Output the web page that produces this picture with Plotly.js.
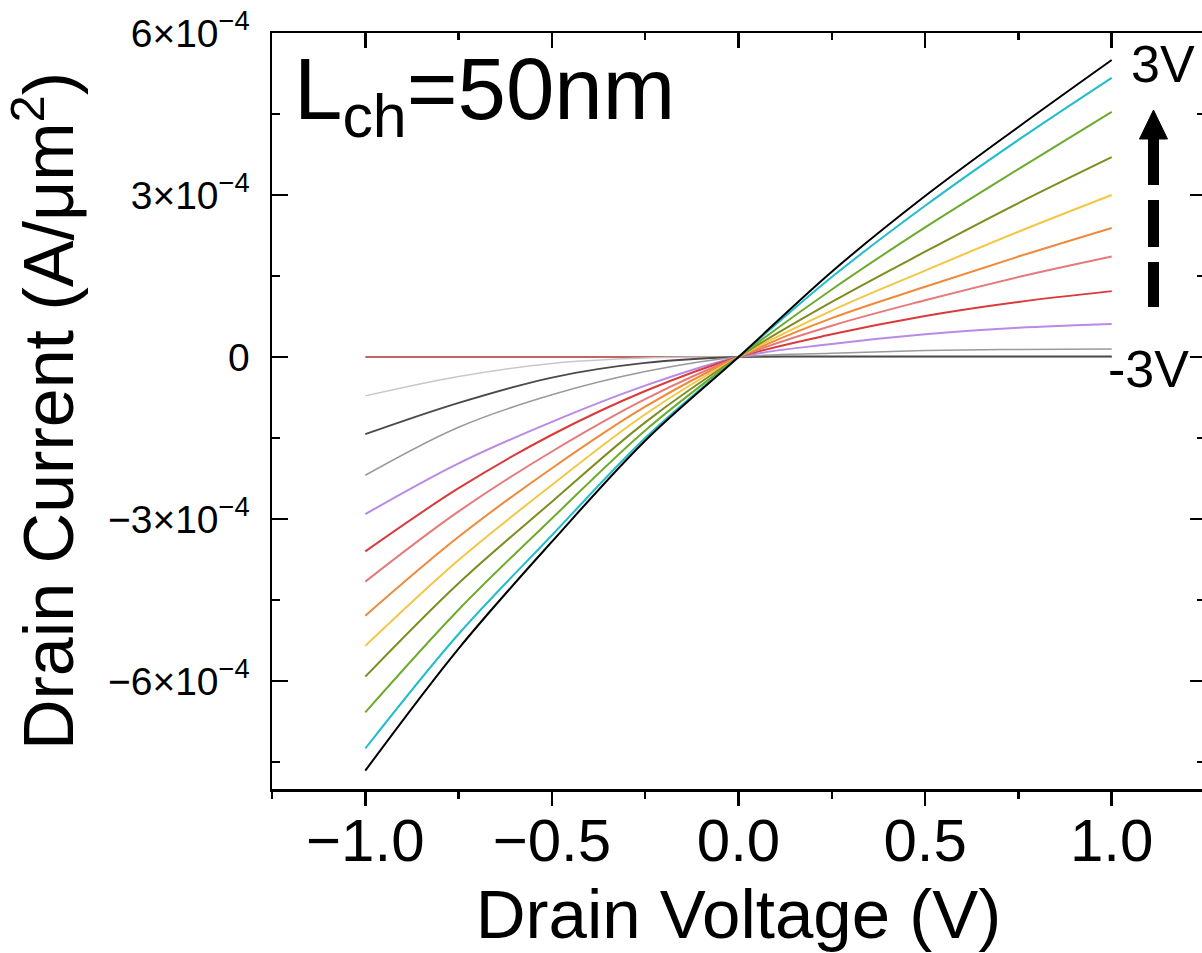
<!DOCTYPE html>
<html>
<head>
<meta charset="utf-8">
<script src="https://cdn.plot.ly/plotly-3.0.1.min.js"></script>
<style>
html,body{margin:0;padding:0;overflow:hidden;background:#fff;}
#chart{width:1208px;height:953px;}
</style>
</head>
<body>
<div id="chart"></div>
<script>
// Drain voltage (V)
const drainVoltage = [-1, -0.75, -0.5, -0.25, 0, 0.25, 0.5, 0.75, 1];

// Drain current (A/um^2) for gate voltages -3 V ... 3 V
const id_vg_m3p0 = [0, 0, 0, 0, 0, 0, 0, 0, 0];
const id_vg_m2p5 = [-0.72e-4, -0.36e-4, -0.12e-4, -0.02e-4, 0, 0, 0, 0, 0];
const id_vg_m2p0 = [-1.43e-4, -0.85e-4, -0.38e-4, -0.11e-4, 0, 0.01e-4, 0.01e-4, 0.01e-4, 0.01e-4];
const id_vg_m1p5 = [-2.19e-4, -1.30e-4, -0.70e-4, -0.27e-4, 0, 0.07e-4, 0.12e-4, 0.14e-4, 0.15e-4];
const id_vg_m1p0 = [-2.91e-4, -1.97e-4, -1.20e-4, -0.53e-4, 0, 0.24e-4, 0.42e-4, 0.54e-4, 0.61e-4];
const id_vg_m0p5 = [-3.60e-4, -2.43e-4, -1.44e-4, -0.63e-4, 0, 0.42e-4, 0.76e-4, 1.02e-4, 1.22e-4];
const id_vg_0p0  = [-4.16e-4, -2.86e-4, -1.75e-4, -0.78e-4, 0, 0.58e-4, 1.05e-4, 1.48e-4, 1.86e-4];
const id_vg_0p5  = [-4.79e-4, -3.33e-4, -2.06e-4, -0.92e-4, 0, 0.72e-4, 1.30e-4, 1.86e-4, 2.39e-4];
const id_vg_1p0  = [-5.35e-4, -3.76e-4, -2.37e-4, -1.06e-4, 0, 0.86e-4, 1.60e-4, 2.32e-4, 3.00e-4];
const id_vg_1p5  = [-5.92e-4, -4.19e-4, -2.68e-4, -1.21e-4, 0, 1.02e-4, 1.95e-4, 2.85e-4, 3.70e-4];
const id_vg_2p0  = [-6.58e-4, -4.68e-4, -2.99e-4, -1.36e-4, 0, 1.25e-4, 2.40e-4, 3.48e-4, 4.54e-4];
const id_vg_2p5  = [-7.25e-4, -5.13e-4, -3.30e-4, -1.50e-4, 0, 1.48e-4, 2.80e-4, 4.02e-4, 5.17e-4];
const id_vg_3p0  = [-7.66e-4, -5.40e-4, -3.42e-4, -1.55e-4, 0, 1.58e-4, 2.98e-4, 4.26e-4, 5.50e-4];

const gateVoltages = ['-3.0 V','-2.5 V','-2.0 V','-1.5 V','-1.0 V','-0.5 V','0.0 V','0.5 V','1.0 V','1.5 V','2.0 V','2.5 V','3.0 V'];
const seriesCurrents = [id_vg_m3p0, id_vg_m2p5, id_vg_m2p0, id_vg_m1p5, id_vg_m1p0, id_vg_m0p5, id_vg_0p0,
                        id_vg_0p5, id_vg_1p0, id_vg_1p5, id_vg_2p0, id_vg_2p5, id_vg_3p0];
const seriesColors = ['#a83232','#c8c8c8','#4a4a4a','#9a9a9a','#b98ae6','#d93a3a','#e67a7a',
                      '#f0893a','#f2c744','#7f8c1f','#6cab2c','#22bccb','#000000'];
const seriesWidths = [1.5,1.5,1.8,1.5,2,2,2,2,2,2,2,2,2];

// Tick labels
const xTickVals = [-1, -0.5, 0, 0.5, 1];
const xTickText = ['\u22121.0', '\u22120.5', '0.0', '0.5', '1.0'];
const yTickVals = [-6e-4, -3e-4, 0, 3e-4, 6e-4];
const yTickText = ['\u22126\u00d710<sup>\u22124</sup>', '\u22123\u00d710<sup>\u22124</sup>', '0',
                   '3\u00d710<sup>\u22124</sup>', '6\u00d710<sup>\u22124</sup>'];

const FONT = 'Liberation Sans, Arial, sans-serif';
const xRange = [-1.25, 1.25];
const yRange = [-8e-4, 6e-4];

const traces = seriesCurrents.map((ys, i) => ({
  type: 'scatter', mode: 'lines', name: gateVoltages[i],
  x: drainVoltage, y: ys,
  line: {color: seriesColors[i], width: seriesWidths[i], shape: 'spline', smoothing: 1},
  hoverinfo: 'skip', showlegend: false
}));
// empty trace to host the mirrored (top/right) frame axes
traces.push({type: 'scatter', mode: 'lines', x: [], y: [], xaxis: 'x2', yaxis: 'y2', showlegend: false, hoverinfo: 'skip'});

const baseAxis = {
  showgrid: false, zeroline: false, showline: true, linecolor: '#000', linewidth: 2.5,
  tickcolor: '#000', tickwidth: 2.5
};

const layout = {
  width: 1208, height: 953,
  margin: {l: 272, r: 3, t: 33, b: 164},
  paper_bgcolor: '#fff', plot_bgcolor: '#fff',
  font: {family: FONT, color: '#000'},
  showlegend: false,
  xaxis: Object.assign({}, baseAxis, {
    range: xRange, tickmode: 'array', tickvals: xTickVals, ticktext: xTickText,
    ticks: 'outside', ticklen: 14, ticklabelstandoff: -17,
    minor: {tickmode: 'linear', tick0: 0.25, dtick: 0.5, ticks: 'outside', ticklen: 7, tickwidth: 2.5, tickcolor: '#000'},
    tickfont: {size: 60, family: FONT, color: '#000'},
    title: {text: 'Drain Voltage (V)', font: {size: 69, family: FONT, color: '#000'}, standoff: 18}
  }),
  xaxis2: Object.assign({}, baseAxis, {
    range: xRange, overlaying: 'x', side: 'top', anchor: 'y2',
    tickmode: 'array', tickvals: xTickVals, showticklabels: false,
    ticks: 'inside', ticklen: 15,
    minor: {tickmode: 'linear', tick0: 0.25, dtick: 0.5, ticks: 'inside', ticklen: 7, tickwidth: 2.5, tickcolor: '#000'}
  }),
  yaxis: Object.assign({}, baseAxis, {
    range: yRange, tickmode: 'array', tickvals: yTickVals, ticktext: yTickText,
    ticks: 'inside', ticklen: 16, ticklabelstandoff: 12,
    minor: {tickmode: 'linear', tick0: 0, dtick: 1.5e-4, ticks: 'inside', ticklen: 8, tickwidth: 2.5, tickcolor: '#000'},
    tickfont: {size: 39, family: FONT, color: '#000'},
    title: {text: 'Drain Current (A/\u03bcm<sup>2</sup>)', font: {size: 70, family: FONT, color: '#000'}, standoff: 36}
  }),
  yaxis2: Object.assign({}, baseAxis, {
    range: yRange, overlaying: 'y', side: 'right', anchor: 'x2',
    tickmode: 'array', tickvals: yTickVals, showticklabels: false,
    ticks: 'inside', ticklen: 15,
    minor: {tickmode: 'linear', tick0: 0, dtick: 1.5e-4, ticks: 'inside', ticklen: 8, tickwidth: 2.5, tickcolor: '#000'}
  }),
  annotations: [
    {xref: 'paper', yref: 'paper', x: 0.0215, y: 0.993, xanchor: 'left', yanchor: 'top',
     text: 'L<sub>ch</sub>=50nm', showarrow: false, font: {size: 87, family: FONT, color: '#000'}},
    {xref: 'paper', yref: 'paper', x: 0.9185, y: 1.0, xanchor: 'left', yanchor: 'top',
     text: '3V', showarrow: false, font: {size: 52, family: FONT, color: '#000'}},
    {xref: 'paper', yref: 'paper', x: 0.8939, y: 0.5966, xanchor: 'left', yanchor: 'top',
     text: '-3V', showarrow: false, font: {size: 52, family: FONT, color: '#000'}}
  ],
  shapes: [
    {type: 'line', xref: 'paper', yref: 'paper', x0: 0.9448, x1: 0.9448, y0: 0.8611, y1: 0.6376,
     line: {color: '#000', width: 11, dash: '47px,15px'}},
    {type: 'path', xref: 'paper', yref: 'paper',
     path: 'M 0.9448 0.8981 L 0.92979 0.8598 L 0.95981 0.8598 Z',
     fillcolor: '#000', line: {color: '#000', width: 1}}
  ]
};

Plotly.newPlot('chart', traces, layout, {staticPlot: true, displayModeBar: false});
</script>
</body>
</html>
